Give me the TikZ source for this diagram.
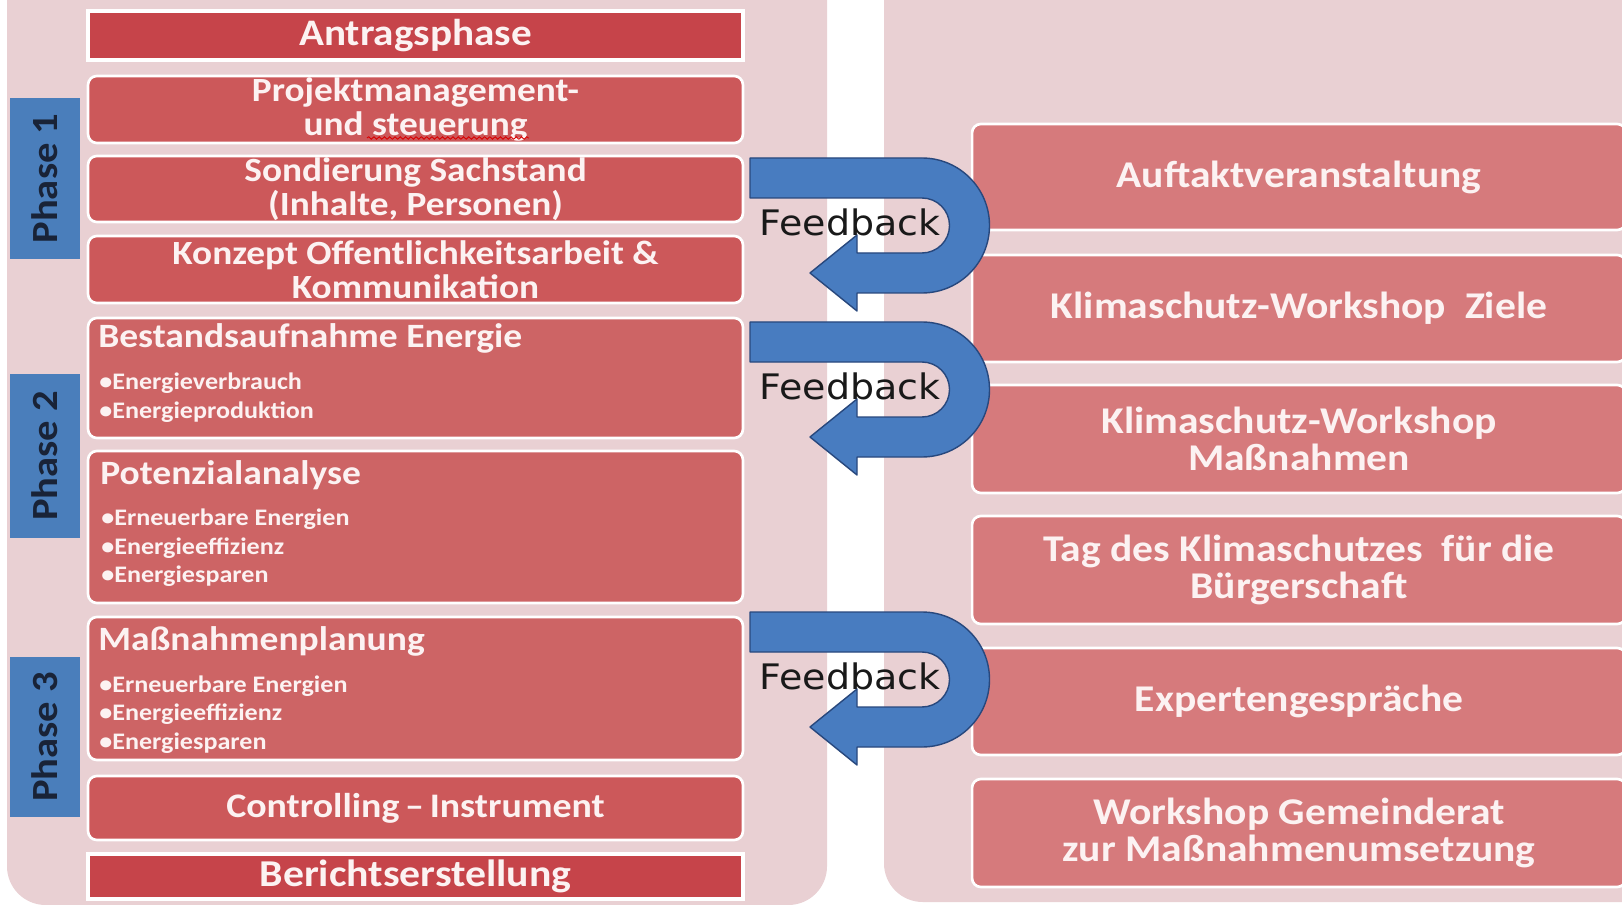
\documentclass[tikz,border=0pt]{standalone}
\usepackage{fontspec}
\setmainfont{Carlito}[FakeStretch=1.1]
\newfontfamily\fbfont{DejaVu Sans}[FakeStretch=1.08]
\usetikzlibrary{decorations.pathmorphing}
\definecolor{panel}{RGB}{233,208,211}
\definecolor{redA}{RGB}{198,68,74}
\definecolor{redB}{RGB}{204,88,90}
\definecolor{redC}{RGB}{205,100,101}
\definecolor{redR}{RGB}{214,122,124}
\definecolor{phaseblue}{RGB}{74,126,187}
\definecolor{arrowblue}{RGB}{72,124,192}
\definecolor{arrowedge}{RGB}{40,72,125}
\definecolor{txt}{RGB}{252,242,242}
\definecolor{navy}{RGB}{25,35,55}
\newcommand\setfs[2]{\fontsize{#1}{#2}\selectfont}
\newcommand\fbarrow[2]{%
  \begin{scope}[shift={(0,#1)}]
    \draw[fbshape] (750,0) -- (922,0) arc[start angle=-90, end angle=90, radius=67.5]
      -- (857,135) -- (857,153) -- (810,115) -- (857,77) -- (857,95) -- (922,95)
      arc[start angle=90, end angle=-90, radius=27.5] -- (922,40) -- (750,40) -- cycle;
    \node[fbtext] (#2) at (850,64) {Feedback};
  \end{scope}}
\begin{document}
\begin{tikzpicture}[x=0.02cm,y=-0.02cm,
  lbox/.style={draw=white, line width=1.5pt, rounded corners=5pt, minimum width=13.1cm, inner sep=0pt, text=txt, align=center, font=\bfseries\setfs{19.3pt}{19.3pt}},
  sqbox/.style={lbox, rounded corners=0pt, fill=redA, line width=2.2pt, font=\bfseries\setfs{21.3pt}{22pt}},
  rbox/.style={draw=white, line width=1.5pt, rounded corners=5pt, minimum width=13.08cm, inner sep=0pt, fill=redR, text=txt, align=center, font=\bfseries\setfs{21.5pt}{21pt}},
  subt/.style={anchor=west, inner sep=0pt, text=txt, font=\bfseries\setfs{19.4pt}{21pt}},
  bul/.style={anchor=west, inner sep=0pt, text=txt, font=\bfseries\setfs{13.5pt}{15pt}},
  phase/.style={fill=phaseblue, draw=none, rotate=90, minimum width=3.2cm, minimum height=1.4cm, inner sep=0pt, text=navy, font=\bfseries\setfs{21pt}{24pt}},
  fbshape/.style={fill=arrowblue, draw=arrowedge, line width=0.8pt, line join=round},
  fbtext/.style={inner sep=0pt, text=black!90, font=\fbfont\setfs{20pt}{22pt}}
]
\useasboundingbox (0,0) rectangle (1622,905);
\clip (0,0) rectangle (1622,905);
\fill[white] (0,0) rectangle (1622,905);
% panels
\fill[panel, rounded corners=22pt] (7,-60) rectangle (827,905);
\fill[panel, rounded corners=22pt] (884,-60) rectangle (1700,902);
% phase labels
\node[phase, minimum width=3.22cm] (ph1) at (45,178.5) {Phase 1};
\node[phase, minimum width=3.28cm] (ph2) at (45,456) {Phase 2};
\node[phase, minimum width=3.2cm] (ph3) at (45,737) {Phase 3};
% left column
\node[sqbox, minimum height=0.98cm] (antrag) at (415.5,35.5) {Antragsphase};
\node[lbox, fill=redB, minimum height=1.34cm] (projekt) at (415.5,109.5) {Projektmanagement-\\und steuerung};
\draw[red!85!black, line width=0.5pt, decorate, decoration={snake, amplitude=0.7pt, segment length=3pt}] (367,138) -- (529,138);
\node[lbox, fill=redB, minimum height=1.32cm] (sond) at (415.5,189) {Sondierung Sachstand\\(Inhalte, Personen)};
\node[lbox, fill=redB, minimum height=1.34cm] (konzept) at (415.5,269.5) {Konzept Offentlichkeitsarbeit \&\\Kommunikation};
\node[lbox, fill=redC, minimum height=2.4cm] (bestand) at (415.5,378) {};
\node[subt] (bestandT) at (98,338) {Bestandsaufnahme Energie};
\node[bul] (b1) at (99,383) {•Energieverbrauch};
\node[bul] (b2) at (99,412) {•Energieproduktion};
\node[lbox, fill=redC, minimum height=3.04cm] (potenz) at (415.5,527) {};
\node[subt] (potenzT) at (100,475) {Potenzialanalyse};
\node[bul] (p1) at (101,519) {•Erneuerbare Energien};
\node[bul] (p2) at (101,548) {•Energieeffizienz};
\node[bul] (p3) at (101,576) {•Energiesparen};
\node[lbox, fill=redC, minimum height=2.86cm] (massn) at (415.5,688.5) {};
\node[subt] (massnT) at (98,641) {Maßnahmenplanung};
\node[bul] (m1) at (99,686) {•Erneuerbare Energien};
\node[bul] (m2) at (99,714) {•Energieeffizienz};
\node[bul] (m3) at (99,743) {•Energiesparen};
\node[lbox, fill=redB, minimum height=1.28cm, font=\bfseries\setfs{19.6pt}{20pt}] (control) at (415.5,808) {Controlling\,–\,Instrument};
\node[sqbox, minimum height=0.9cm, font=\bfseries\setfs{21.6pt}{22pt}] (bericht) at (415.5,876.5) {Berichtserstellung};
% right column
\node[rbox, minimum height=2.12cm] (auftakt) at (1299,177) {Auftaktveranstaltung};
\node[rbox, minimum height=2.14cm] (ziele) at (1299,308.5) {Klimaschutz-Workshop\ \ Ziele};
\node[rbox, minimum height=2.16cm] (wsmass) at (1299,439) {Klimaschutz-Workshop\\Maßnahmen};
\node[rbox, minimum height=2.16cm] (tag) at (1299,570) {Tag des Klimaschutzes\ \ für die\\Bürgerschaft};
\node[rbox, minimum height=2.14cm] (experten) at (1299,701.5) {Expertengespräche};
\node[rbox, minimum height=2.16cm] (gemeinde) at (1299,833) {Workshop Gemeinderat\\zur Maßnahmenumsetzung};
% feedback arrows
\fbarrow{158}{fb1}
\fbarrow{322}{fb2}
\fbarrow{612}{fb3}
\end{tikzpicture}
\end{document}
